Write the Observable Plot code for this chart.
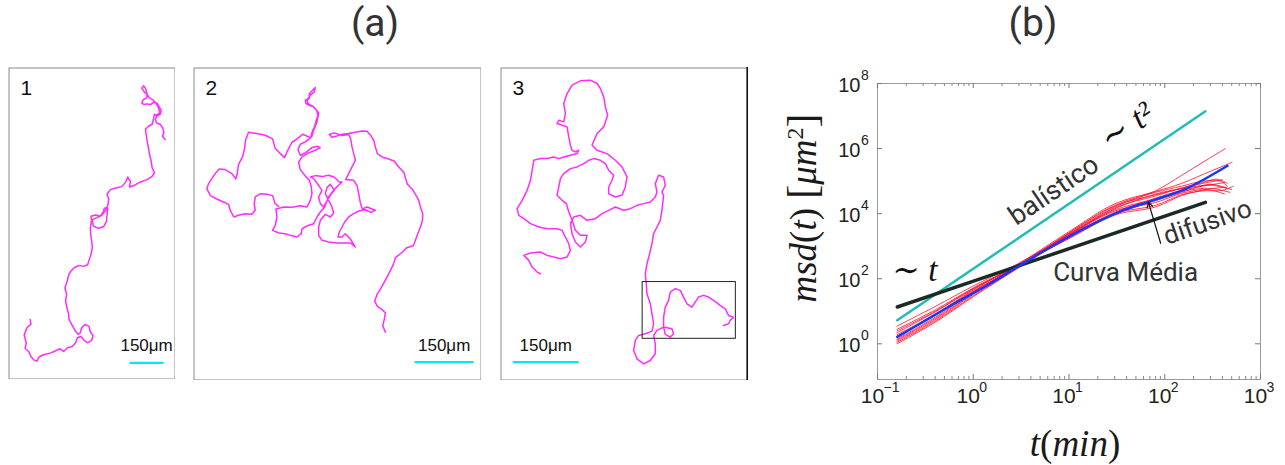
<!DOCTYPE html>
<html><head><meta charset="utf-8">
<script src="https://cdn.jsdelivr.net/npm/d3@7"></script>
<script src="https://cdn.jsdelivr.net/npm/@observablehq/plot@0.6"></script>
<style>
body{margin:0;background:#fff;}
#root{position:relative;width:1285px;height:465px;overflow:hidden;background:#fff;}
.abs{position:absolute;}
.title{font-family:Roboto,sans-serif;font-size:39px;color:#333;width:120px;text-align:center;line-height:1;}
.math{font-family:"Liberation Serif",serif;color:#1a1a1a;white-space:nowrap;text-align:center;}
.math i{font-style:italic;}
svg{display:block;}
</style></head><body><div id="root">
<div class="abs title" style="left:315px;top:4px">(a)</div>
<div class="abs title" style="left:973px;top:4px">(b)</div>
<div id="p1" class="abs" style="left:8px;top:67px"></div>
<div id="p2" class="abs" style="left:193px;top:67px"></div>
<div id="p3" class="abs" style="left:500px;top:67px"></div>
<div id="pb" class="abs" style="left:760px;top:60px"></div>
<div class="abs math" style="left:645px;top:188px;width:300px;height:40px;line-height:40px;font-size:37px;transform:rotate(-90deg);"><i>msd</i>(<i>t</i>)&nbsp;<span style="font-size:42px">[</span><i>μm</i><sup style="font-size:24px;vertical-align:0.55em">2</sup><span style="font-size:42px">]</span></div>
<div class="abs math" style="left:975px;top:424px;width:200px;height:40px;line-height:40px;font-size:37px;"><i>t</i>(<i>min</i>)</div>
</div>
<script>
// ---------- panel (a): trajectories (coordinates, in image units) ----------
const traj1 = [[90,775],[92,790],[80,800],[72,822],[78,845],[75,862],[86,872],[92,886],[102,897],[110,900],[118,886],[132,880],[150,876],[166,869],[180,863],[190,871],[202,860],[216,856],[226,845],[231,830],[242,826],[252,838],[262,845],[274,838],[278,824],[270,812],[266,796],[254,790],[244,800],[240,815],[234,820],[224,808],[214,790],[206,774],[205,758],[200,740],[196,720],[199,700],[194,680],[201,660],[205,642],[212,630],[222,620],[236,613],[250,616],[262,611],[266,598],[272,580],[276,560],[274,540],[271,520],[270,500],[274,478],[272,466],[286,462],[300,466],[309,452],[312,441],[322,442],[320,462],[318,482],[310,497],[294,502],[279,495],[276,476],[290,470],[305,462],[318,445],[323,430],[325,414],[320,400],[330,386],[346,381],[364,377],[377,362],[382,348],[390,362],[387,378],[404,372],[420,363],[440,356],[455,346],[462,336],[455,320],[452,300],[447,280],[444,260],[440,240],[437,220],[435,205],[444,196],[455,190],[459,176],[462,160],[471,165],[480,160],[482,148],[476,138],[470,127],[460,124],[450,131],[440,129],[430,131],[424,126],[429,116],[439,111],[440,100],[432,94],[424,82],[430,75],[436,84],[440,100],[446,110],[456,116],[466,126],[474,140],[478,155],[470,161],[465,175],[468,186],[480,191],[487,202],[490,216],[486,226],[494,236]];

const traj2 = [[600,815],[592,796],[597,776],[600,757],[588,746],[576,738],[568,722],[575,702],[585,686],[595,668],[605,650],[614,632],[624,612],[630,592],[648,578],[664,562],[684,556],[690,540],[697,520],[705,500],[711,480],[712,460],[705,440],[700,420],[690,402],[680,386],[666,372],[660,352],[655,336],[640,320],[626,302],[610,296],[590,290],[576,280],[570,260],[565,240],[555,224],[545,213],[530,212],[510,216],[490,220],[470,222],[455,227],[440,231],[432,223],[446,218],[470,226],[490,223],[496,236],[500,260],[505,280],[510,300],[500,320],[490,340],[481,358],[505,360],[515,376],[520,400],[525,428],[531,446],[545,440],[560,446],[570,450],[556,456],[540,448],[520,452],[505,460],[490,470],[478,485],[470,500],[462,515],[458,530],[470,530],[480,520],[495,536],[510,560],[495,548],[470,548],[455,548],[430,545],[410,540],[400,525],[400,500],[405,480],[420,462],[435,470],[445,458],[440,440],[430,420],[420,400],[425,382],[435,372],[447,390],[435,405],[425,422],[415,440],[405,430],[400,410],[410,390],[400,375],[385,355],[375,350],[390,346],[410,349],[430,345],[446,350],[462,365],[470,365],[460,374],[445,390],[430,410],[418,440],[405,455],[395,470],[385,490],[366,496],[350,506],[348,520],[335,530],[315,525],[300,520],[281,518],[262,510],[270,495],[275,470],[272,446],[296,440],[320,441],[345,436],[365,440],[375,420],[380,400],[378,380],[373,361],[360,347],[345,328],[340,306],[350,290],[370,278],[390,270],[405,262],[396,258],[380,262],[360,278],[345,285],[338,268],[345,252],[360,245],[372,236],[380,228],[384,212],[390,198],[395,185],[398,170],[400,158],[392,148],[385,140],[372,135],[362,130],[360,120],[372,115],[372,100],[382,90],[390,82],[386,96],[376,104],[366,118],[368,130],[382,138],[394,150],[398,165],[393,180],[388,198],[381,214],[376,232],[366,228],[352,222],[340,232],[330,240],[320,246],[305,275],[298,292],[285,280],[270,265],[262,236],[240,225],[215,220],[190,216],[181,240],[178,265],[172,290],[160,312],[156,340],[152,356],[140,340],[120,328],[102,326],[90,340],[80,355],[70,370],[65,386],[76,406],[95,416],[115,425],[130,432],[136,452],[146,470],[160,465],[180,460],[200,462],[210,450],[207,430],[210,410],[226,400],[245,402],[262,406],[270,430],[280,438]];

const traj3 = [[150,640],[140,635],[125,620],[115,600],[100,585],[120,578],[150,575],[170,585],[190,590],[210,595],[230,590],[240,570],[235,550],[225,530],[215,510],[200,505],[170,505],[145,500],[120,490],[100,475],[85,465],[80,445],[95,420],[110,390],[120,360],[125,330],[130,300],[150,295],[170,295],[190,290],[205,295],[220,290],[240,285],[260,280],[265,270],[255,275],[245,270],[240,255],[235,230],[230,200],[215,195],[200,190],[205,180],[220,185],[225,160],[220,130],[230,100],[245,75],[270,62],[300,60],[320,70],[330,85],[340,110],[345,140],[352,165],[340,200],[320,220],[305,255],[320,270],[350,280],[375,300],[395,320],[410,350],[405,380],[395,405],[375,410],[355,400],[355,380],[365,360],[370,345],[355,330],[345,310],[330,300],[310,295],[295,300],[280,310],[260,320],[240,325],[220,340],[210,355],[205,380],[200,405],[215,420],[228,430],[235,455],[245,480],[255,510],[270,525],[290,525],[285,545],[270,560],[255,545],[245,520],[240,490],[250,470],[270,465],[290,480],[315,475],[335,460],[355,450],[375,440],[400,450],[420,445],[440,435],[460,430],[480,425],[495,410],[500,395],[495,370],[505,345],[520,350],[525,375],[515,395],[520,405],[515,450],[510,480],[500,500],[490,520],[485,550],[478,580],[470,610],[465,640],[468,670],[470,700],[480,730],[485,760],[490,790],[485,812],[465,820],[445,825],[435,840],[430,870],[440,895],[460,910],[480,900],[495,880],[495,850],[490,825],[500,810],[520,800],[545,805],[550,820],[540,830],[525,822],[520,800],[520,770],[525,740],[535,720],[540,695],[555,685],[570,690],[580,710],[590,730],[605,740],[615,725],[625,710],[640,705],[655,710],[670,720],[690,735],[705,745],[715,765],[730,770],[720,780],[715,790],[700,795]];

const panelLabels = ["1", "2", "3"];
const scaleLabel = "150μm";
const scaleBars = [[[390,905],[487,905]], [[690,905],[862,905]], [[70,905],[262,905]]];
const zoomRect = [{x1:457, y1:665, x2:737, y2:835}];
const panelDomains = [
  {x:[25,525], y:[955,20], w:167, h:312},
  {x:[25,888], y:[960,22], w:288, h:313},
  {x:[30,775], y:[960,22], w:248, h:313}
];
const trajs = [traj1, traj2, traj3];

trajs.forEach((tr, i) => {
  const d = panelDomains[i];
  const bar = scaleBars[i];
  const marks = [
    Plot.frame({stroke:"#8a8a8a", inset:0.5}),
    Plot.line(tr, {x:p=>p[0], y:p=>p[1], stroke:"#ff2bff", strokeWidth:1.5, strokeLinejoin:"round"}),
    Plot.line(bar, {x:p=>p[0], y:p=>p[1], stroke:"#00e8f0", strokeWidth:2.2}),
    Plot.text([bar], {x:b=>(b[0][0]+b[1][0])/2, y:b=>b[0][1], text:()=>scaleLabel, dy:-17, fontSize:17, fontFamily:"Liberation Sans, Arial, sans-serif", fill:"#111"}),
    Plot.text([panelLabels[i]], {frameAnchor:"top-left", dx:12, dy:13, fontSize:21, fontFamily:"Liberation Sans, Arial, sans-serif", fill:"#111", textAnchor:"start", lineAnchor:"top"})
  ];
  if (i === 2) {
    marks.push(Plot.rect(zoomRect, {x1:"x1", y1:"y1", x2:"x2", y2:"y2", fill:"none", stroke:"#222", strokeWidth:1}));
    marks.push(Plot.ruleX([d.x[1]], {stroke:"#111", strokeWidth:2.2, dx:-1}));
  }
  const svg = Plot.plot({width:d.w, height:d.h, margin:0, x:{domain:d.x, axis:null}, y:{domain:d.y, axis:null}, marks});
  document.getElementById("p"+(i+1)).appendChild(svg);
});

// ---------- panel (b): msd log-log ----------
const blueMean = [[0.161,1.64],[0.28,4.2],[0.63,17],[1.4,63],[3.1,260],[6.95,1070],[15.5,3900],[34.5,11800],[77,26000],[170,60000],[452,296000]];
const balisticLine = [[0.161,5.3],[266,14000000]];
const diffusiveLine = [[0.161,13.5],[266,22300]];
const redCurves = [
 [[0.16,1.3],[0.4,6],[1,35],[3,280],[10,2400],[30,16000],[80,50000],[150,150000],[250,380000],[430,1000000]],
 [[0.16,1.6],[0.4,8],[1,45],[3,290],[10,2800],[30,20000],[80,48000],[150,85000],[250,160000],[505,380000]],
 [[0.16,3.5],[0.4,14],[1,60],[3,300],[10,2200],[30,14000],[80,40000],[150,60000],[250,85000],[400,110000]],
 [[0.16,2.8],[0.4,11],[1,52],[3,270],[10,2000],[30,11000],[80,30000],[150,52000],[250,70000],[420,90000]],
 [[0.16,2.2],[0.4,9.5],[1,48],[3,260],[10,1800],[30,9500],[80,25000],[150,45000],[300,80000],[450,60000]],
 [[0.16,1.9],[0.4,8],[1,42],[3,250],[10,2600],[30,18000],[80,45000],[150,70000],[250,100000],[380,100000],[450,70000]],
 [[0.16,1.2],[0.4,5.5],[1,33],[3,240],[10,2500],[30,17000],[80,38000],[150,58000],[300,75000],[500,55000]],
 [[0.16,1.1],[0.4,5],[1,30],[3,230],[10,2300],[30,13000],[80,28000],[150,48000],[300,60000],[480,45000]],
 [[0.16,1.0],[0.4,4.6],[1,28],[3,220],[10,2100],[30,12000],[80,22000],[150,42000],[280,55000],[420,40000]],
 [[0.16,1.4],[0.4,6.5],[1,38],[3,260],[10,2000],[30,10000],[80,18000],[150,38000],[250,50000],[400,52000],[520,70000]],
 [[0.16,2.5],[0.4,10],[1,50],[3,270],[10,1700],[30,9000],[80,16000],[150,36000],[300,58000],[440,65000]],
 [[0.16,1.7],[0.4,7.5],[1,40],[3,255],[10,2200],[30,15000],[80,35000],[150,62000],[250,90000],[350,115000],[450,85000]]
];
const xTickLabels = [0.1, 1, 10, 100, 1000];
const yTickLabels = [1, 100, 1e4, 1e6, 1e8];
const xDomain = [0.1, 1000];
const yDomain = [0.08, 1e8];
const xMinorTicks = [];
[0.1, 1, 10, 100].forEach(b => { for (let k = 2; k <= 9; k++) xMinorTicks.push(b*k); });

const annBal = [{t:6.9, m:52000, text:"balístico"}];
const annT2 = [{t:40, m:5000000, text:"∼ t²"}];
const annT1 = [{t:0.245, m:180, text:"∼ t"}];
const annMedia = [{t:39, m:150, text:"Curva Média"}];
const annDif = [{t:280, m:5400, text:"difusivo"}];
const arrowData = [{t1:90.6, m1:1230, t2:67.6, m2:22200}];

const redRows = redCurves.flatMap((c, id) => c.map(([t, m]) => ({id, t, m})));
const supStr = d => String(Math.round(Math.log10(d))).replace("-", "−");

const bW = 520, bH = 405, mL = 117, mR = 20, mT = 23, mB = 86;
const innerW = bW - mL - mR, innerH = bH - mT - mB;
const sans = "Liberation Sans, Arial, sans-serif";
const serif = "Liberation Serif, DejaVu Serif, serif";
const ann = "Roboto, sans-serif";

const pb = Plot.plot({
  width:bW, height:bH, marginLeft:mL, marginRight:mR, marginTop:mT, marginBottom:mB,
  x:{type:"log", domain:xDomain, axis:null},
  y:{type:"log", domain:yDomain, axis:null},
  marks:[
    Plot.frame({stroke:"#9a9a9a"}),
    Plot.ruleX(xMinorTicks, {x:d=>d, insetTop:innerH-3, stroke:"#888"}),
    Plot.ruleX(xMinorTicks, {x:d=>d, insetBottom:innerH-3, stroke:"#888"}),
    Plot.ruleX(xTickLabels, {x:d=>d, insetTop:innerH-5, stroke:"#777"}),
    Plot.ruleX(xTickLabels, {x:d=>d, insetBottom:innerH-5, stroke:"#777"}),
    Plot.ruleY(yTickLabels, {y:d=>d, insetRight:innerW-5, stroke:"#777"}),
    Plot.ruleY(yTickLabels, {y:d=>d, insetLeft:innerW-5, stroke:"#777"}),
    Plot.text(xTickLabels, {x:d=>d, frameAnchor:"bottom", text:()=>"10", dx:-5, dy:23, fontSize:21, fontFamily:sans, fill:"#222"}),
    Plot.text(xTickLabels, {x:d=>d, frameAnchor:"bottom", text:supStr, dx:6, dy:12, fontSize:14, fontFamily:sans, fill:"#222", textAnchor:"start"}),
    Plot.text(yTickLabels, {y:d=>d, frameAnchor:"left", text:()=>"10", dx:-17, dy:2, fontSize:20, fontFamily:sans, fill:"#222", textAnchor:"end"}),
    Plot.text(yTickLabels, {y:d=>d, frameAnchor:"left", text:supStr, dx:-16.5, dy:-8, fontSize:14, fontFamily:sans, fill:"#222", textAnchor:"start"}),
    Plot.line(balisticLine, {x:d=>d[0], y:d=>d[1], stroke:"#1fbdb5", strokeWidth:2.5}),
    Plot.line(redRows, {x:"t", y:"m", z:"id", stroke:"#ff0a2a", strokeWidth:0.8, strokeOpacity:1, curve:"catmull-rom"}),
    Plot.line(diffusiveLine, {x:d=>d[0], y:d=>d[1], stroke:"#1c2a26", strokeWidth:3.5}),
    Plot.line(blueMean, {x:d=>d[0], y:d=>d[1], stroke:"#1538ff", strokeWidth:2.5, curve:"catmull-rom"}),
    Plot.arrow(arrowData, {x1:"t1", y1:"m1", x2:"t2", y2:"m2", stroke:"#111", strokeWidth:1.2, headLength:7}),
    Plot.text(annBal, {x:"t", y:"m", text:"text", rotate:-34, fontSize:27, fontFamily:ann, fill:"#333"}),
    Plot.text(annT2, {x:"t", y:"m", text:"text", rotate:-34, fontSize:34, fontFamily:serif, fontStyle:"italic", fill:"#111"}),
    Plot.text(annT1, {x:"t", y:"m", text:"text", fontSize:33, fontFamily:serif, fontStyle:"italic", fill:"#111"}),
    Plot.text(annMedia, {x:"t", y:"m", text:"text", fontSize:26, fontFamily:ann, fill:"#333"}),
    Plot.text(annDif, {x:"t", y:"m", text:"text", rotate:-19, fontSize:26, fontFamily:ann, fill:"#333"})
  ]
});
document.getElementById("pb").appendChild(pb);
</script>
</body></html>
